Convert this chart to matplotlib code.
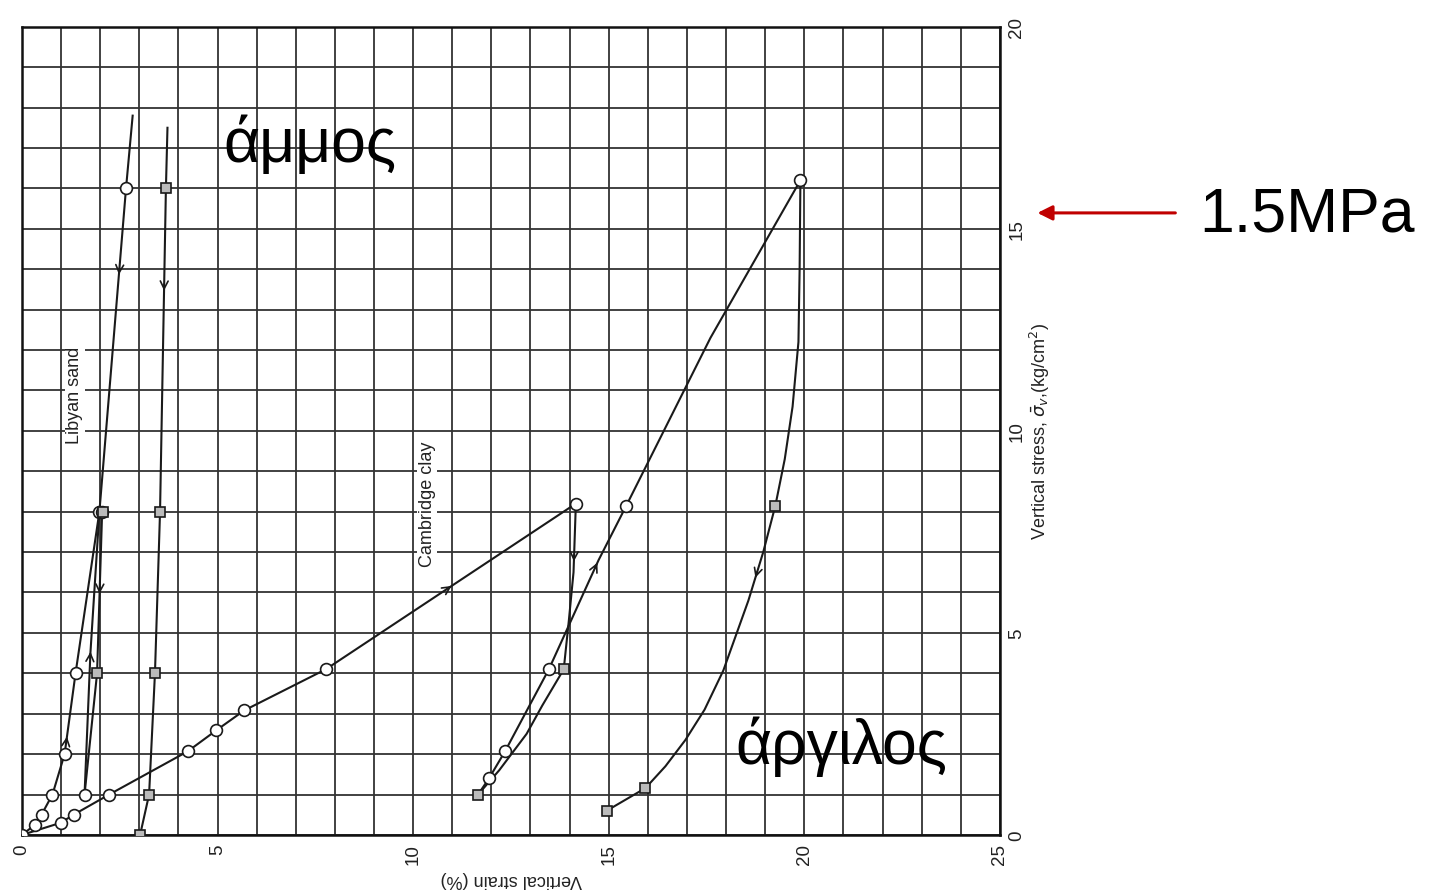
import numpy as np
import matplotlib
matplotlib.use('Agg')
import matplotlib.pyplot as plt

# Libyan sand, first loading (circles)
sand_load_x = [0, 0.33, 0.5, 0.78, 1.09, 1.37, 1.98]
sand_load_y = [0, 0.25, 0.5, 1, 2, 4, 8]
# unloading 8 -> 1
sand_unload_x = [2.05, 1.92, 1.6]
sand_unload_y = [8, 4, 1]
# reloading 1 -> 16 and beyond
sand_reload_x = [1.6, 1.75, 1.98, 2.66, 2.83]
sand_reload_y = [1, 4.5, 8, 16, 17.8]
# second sand test (squares)
sand2_x = [3.02, 3.25, 3.4, 3.53, 3.68, 3.72]
sand2_y = [0, 1, 4, 8, 16, 17.5]

# Cambridge clay
clay_load_x = [0, 0.99, 1.32, 2.23, 4.24, 4.97, 5.68, 7.77, 14.16]
clay_load_y = [0, 0.3, 0.5, 1.0, 2.07, 2.59, 3.08, 4.1, 8.2]
clay_unload_x = [14.16, 14.1, 13.98, 13.85, 13.3, 12.9, 12.2, 11.66]
clay_unload_y = [8.2, 6.5, 5.3, 4.1, 3.2, 2.5, 1.6, 1.0]
clay_reload_x = [11.66, 11.94, 12.35, 13.47, 14.74, 15.45, 17.6, 19.9]
clay_reload_y = [1.0, 1.4, 2.07, 4.1, 6.8, 8.15, 12.3, 16.2]
clay_unload2_x = [19.9, 19.88, 19.85, 19.7, 19.5, 19.26, 18.95, 18.57, 17.93,
                  17.45, 16.96, 16.45, 15.94, 14.95]
clay_unload2_y = [16.2, 14, 12.2, 10.6, 9.3, 8.15, 7.0, 5.8, 4.07,
                  3.1, 2.35, 1.7, 1.16, 0.6]

# marker points
circ_x = [0, 0.33, 0.5, 0.78, 1.09, 1.37, 1.98, 2.05, 1.6, 2.66,
          0.99, 1.32, 2.23, 4.24, 4.97, 5.68, 7.77, 14.16,
          11.94, 12.35, 13.47, 15.45, 19.9]
circ_y = [0, 0.25, 0.5, 1, 2, 4, 8, 8, 1, 16,
          0.3, 0.5, 1.0, 2.07, 2.59, 3.08, 4.1, 8.2,
          1.4, 2.07, 4.1, 8.15, 16.2]
sq_x = [1.92, 2.08, 3.02, 3.25, 3.4, 3.53, 3.68,
        13.85, 11.66, 19.26, 15.94, 14.95]
sq_y = [4, 8, 0, 1, 4, 8, 16,
        4.1, 1.0, 8.15, 1.16, 0.6]

# arrows: (curve, stress level, +1 along curve order / -1 against)
arrows = [('sand_load', 2.5, 1), ('sand_reload', 4.6, 1), ('sand_unload', 5.9, 1),
          ('sand_reload', 13.8, -1), ('sand2', 13.4, -1),
          ('clay_load', 6.2, 1), ('clay_unload', 6.7, 1),
          ('clay_reload', 6.8, 1), ('clay_unload2', 6.3, 1)]

curves = {
    'sand_load': (sand_load_x, sand_load_y),
    'sand_unload': (sand_unload_x, sand_unload_y),
    'sand_reload': (sand_reload_x, sand_reload_y),
    'sand2': (sand2_x, sand2_y),
    'clay_load': (clay_load_x, clay_load_y),
    'clay_unload': (clay_unload_x, clay_unload_y),
    'clay_reload': (clay_reload_x, clay_reload_y),
    'clay_unload2': (clay_unload2_x, clay_unload2_y),
}

plt.rcParams['font.family'] = ['Liberation Sans', 'DejaVu Sans']

fig = plt.figure(figsize=(14.35, 8.95), dpi=100)
ax = fig.add_axes([0.0153, 0.066, 0.6815, 0.903])

ink = '#1a1a1a'
for name, (xs, ys) in curves.items():
    ax.plot(xs, ys, color=ink, lw=1.5, zorder=3)

ax.plot(circ_x, circ_y, 'o', ms=8.5, mfc='white', mec=ink, mew=1.2, zorder=4)
ax.plot(sq_x, sq_y, 's', ms=7, mfc='#bbbbbb', mec=ink, mew=1.2, zorder=4)

for name, level, sign in arrows:
    xs, ys = curves[name]
    for i in range(len(xs) - 1):
        y0, y1 = ys[i], ys[i + 1]
        if min(y0, y1) <= level <= max(y0, y1) and y0 != y1:
            t = (level - y0) / (y1 - y0)
            px = xs[i] + t * (xs[i + 1] - xs[i])
            dx, dy = (xs[i + 1] - xs[i]) * sign, (y1 - y0) * sign
            n = np.hypot(dx * 40, dy * 40) / 12
            ax.annotate('', xy=(px, level), xytext=(px - dx / n, level - dy / n),
                        arrowprops=dict(arrowstyle='->', color=ink, lw=1.2,
                                        mutation_scale=14), zorder=5)
            break

ax.set_xlim(0, 25)
ax.set_ylim(0, 20)
ax.set_yticks(np.arange(0, 21, 1))
ax.grid(True, color='#333333', lw=1.3)
ax.set_axisbelow(True)
ax.set_xticks(np.arange(0, 26, 1))
ax.set_xticklabels([str(v) if v % 5 == 0 else '' for v in range(26)],
                   rotation=90, fontsize=13.5, color='#222222')
ax.yaxis.tick_right()
ax.set_yticklabels([str(v) if v % 5 == 0 else '' for v in range(21)],
                   rotation=90, va='center', fontsize=13.5, color='#222222')
ax.tick_params(length=0, pad=6)
for s in ax.spines.values():
    s.set_linewidth(1.8)
    s.set_color('#111111')

ax.set_xlabel('Vertical strain (%)', rotation=180, fontsize=13, color='#222222',
              labelpad=4)
ax.yaxis.set_label_position('right')
ax.set_ylabel(r'Vertical stress, $\bar{\sigma}_v$,(kg/cm$^2$)', rotation=90,
              fontsize=13, color='#222222', labelpad=2)

ax.text(1.35, 10.9, 'Libyan sand', rotation=90, ha='center', va='center',
        fontsize=13, color='#222222', zorder=6,
        bbox=dict(facecolor='white', edgecolor='none', pad=1))
ax.text(10.36, 8.2, 'Cambridge clay', rotation=90, ha='center', va='center',
        fontsize=13, color='#222222', zorder=6,
        bbox=dict(facecolor='white', edgecolor='none', pad=1))

ax.text(7.35, 17.1, 'άμμος', ha='center', va='center', fontsize=45, color='black', zorder=6)
ax.text(20.95, 2.2, 'άργιλος', ha='center', va='center', fontsize=45, color='black', zorder=6)

fig.text(0.836, 0.76, '1.5MPa', ha='left', va='center', fontsize=45, color='black')
fig.patches.append(matplotlib.patches.FancyArrowPatch(
    (0.821, 0.761), (0.721, 0.761), transform=fig.transFigure,
    arrowstyle='-|>', mutation_scale=22, color='#c00000', lw=2.2))

fig.savefig('out.png', dpi=100)
